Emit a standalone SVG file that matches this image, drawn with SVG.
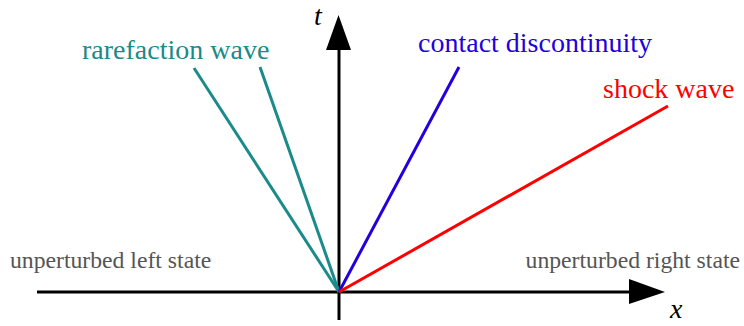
<svg xmlns="http://www.w3.org/2000/svg" width="744" height="326" viewBox="0 0 744 326">
<style>
text{font-family:"Liberation Serif","Times New Roman",serif}
.lbl{font-size:28px}
.st{font-size:23.7px;fill:#555555}
.ax{stroke:#000;stroke-width:3;fill:none}
.w{stroke-width:3;fill:none}
</style>
<rect width="744" height="326" fill="#fff"/>
<g id="axes">
<line class="ax" x1="37" y1="292" x2="632" y2="292"/>
<polygon points="665,292 629,279 629,304" fill="#000"/>
<line class="ax" x1="339" y1="320" x2="339" y2="48"/>
<polygon points="338.5,15 326,50 351,50" fill="#000"/>
<text x="314" y="25" font-style="italic" class="lbl">t</text>
<text x="670" y="318" font-style="italic" class="lbl">x</text>
</g>
<g id="connectors">
<line class="w" x1="339" y1="292" x2="194" y2="68" stroke="#1a8a8a"/>
<line class="w" x1="339" y1="292" x2="260" y2="67" stroke="#1a8a8a"/>
<line class="w" x1="339" y1="292" x2="459" y2="67" stroke="#2200dd"/>
<line class="w" x1="339" y1="292" x2="668" y2="106" stroke="#ff0000"/>
</g>
<g id="rarefaction"><text x="82" y="59" class="lbl" fill="#1a8a8a">rarefaction wave</text></g>
<g id="contact"><text x="418" y="52" class="lbl" fill="#2200dd">contact discontinuity</text></g>
<g id="shock"><text x="603" y="98" class="lbl" fill="#ff0000">shock wave</text></g>
<g id="left"><text x="10" y="268" class="st">unperturbed left state</text></g>
<g id="right"><text x="740" y="268" text-anchor="end" class="st">unperturbed right state</text></g>
</svg>
